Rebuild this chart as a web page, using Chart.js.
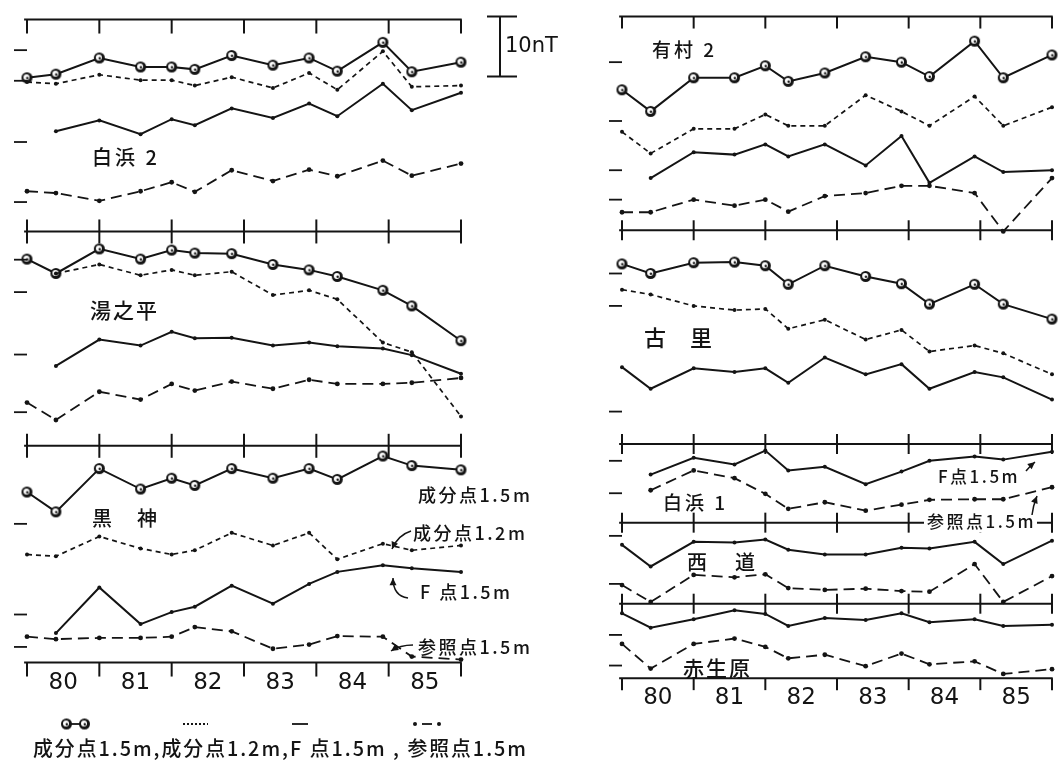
<!DOCTYPE html>
<html>
<head>
<meta charset="utf-8">
<script src="https://cdn.jsdelivr.net/npm/chart.js@4"></script>
<style>
  body { margin: 0; background: #fff; }
  #wrap { position: relative; width: 1058px; height: 761px; }
  canvas { position: absolute; left: 0; top: 0; }
</style>
</head>
<body>
<div id="wrap">
  <canvas id="leftCol" width="1058" height="761"></canvas>
  <canvas id="rightCol" width="1058" height="761"></canvas>
</div>
<script>
// survey epochs (decimal year) and year axis
const epochs = [1980.0, 1980.4, 1981.0, 1981.57, 1982.0, 1982.32, 1982.83, 1983.4, 1983.9, 1984.29, 1984.92, 1985.32, 1986.0];
const yearTicks = [1980, 1981, 1982, 1983, 1984, 1985, 1986];
const yearLabels = ['80', '81', '82', '83', '84', '85'];

// levels (nT) of the horizontal panel axes, top to bottom
const leftAxisLevels = [122.5, 87.2, 51.5, 15.4];
const rightAxisLevels = [123.0, 87.4, 51.8, 38.7, 25.2, 12.8];

// values in nT above the bottom axis of each panel
// 白浜2
const shirahama2Comp15 = [25.6, 26.2, 28.9, 27.4, 27.4, 27.0, 29.3, 27.7, 28.9, 26.7, 31.5, 26.6, 28.2];
const shirahama2Comp12 = [24.9, 24.6, 26.1, 25.2, 25.2, 24.3, 25.7, 23.9, 26.4, 23.6, 30.0, 24.1, 24.3];
const shirahama2F15 = [null, 16.7, 18.5, 16.2, 18.7, 17.7, 20.5, 18.9, 21.3, 19.2, 24.6, 20.2, 23.1];
const shirahama2Ref15 = [6.7, 6.4, 5.1, 6.7, 8.2, 6.6, 10.2, 8.4, 10.3, 9.2, 11.8, 9.3, 11.3];
const shirahama2Marks = [30.2, 25.1, 14.9, 4.9];
// 湯之平
const yunohiraComp15 = [31.1, 28.7, 32.8, 31.1, 32.6, 32.1, 32.0, 30.2, 29.3, 28.2, 25.9, 23.3, 17.5];
const yunohiraComp12 = [null, 28.7, 30.2, 28.4, 29.3, 28.4, 29.0, 25.1, 25.9, 24.4, 17.2, 15.6, 4.9];
const yunohiraF15 = [null, 13.3, 17.7, 16.7, 19.0, 17.9, 18.0, 16.7, 17.2, 16.6, 16.2, 15.1, 12.0];
const yunohiraRef15 = [7.2, 4.3, 9.0, 7.7, 10.3, 9.2, 10.7, 9.5, 11.0, 10.3, 10.3, 10.5, 11.3];
const yunohiraMarks = [31.0, 25.6, 15.2, 5.6];
// 黒神
const kurokamiComp15 = [28.4, 25.1, 32.3, 28.9, 30.7, 29.5, 32.3, 30.7, 32.3, 30.5, 34.4, 32.8, 32.1];
const kurokamiComp12 = [18.0, 17.7, 21.0, 19.0, 18.0, 18.7, 21.6, 19.5, 21.6, 17.2, 19.8, 18.7, 19.5];
const kurokamiF15 = [null, 4.9, 12.5, 6.4, 8.4, 9.3, 12.8, 9.8, 13.1, 15.1, 16.2, 15.7, 15.1];
const kurokamiRef15 = [4.3, 3.9, 4.1, 4.1, 4.3, 5.9, 5.2, 2.3, 3.0, 4.4, 4.3, 1.0, 0.5];
const kurokamiMarks = [23.1, 8.0, 2.6];
// 有村2
const arimura2Comp15 = [23.4, 19.8, 25.4, 25.4, 27.4, 24.8, 26.2, 28.9, 28.0, 25.6, 31.5, 25.4, 29.2];
const arimura2Comp12 = [16.4, 12.8, 16.9, 16.9, 19.3, 17.4, 17.4, 22.5, 19.8, 17.4, 22.3, 17.4, 20.5];
const arimura2F15 = [null, 8.7, 13.0, 12.6, 14.3, 12.3, 14.3, 10.8, 15.7, 7.9, 12.3, 9.7, 10.0];
const arimura2Ref15 = [3.0, 3.0, 5.1, 4.1, 5.1, 3.1, 5.7, 6.2, 7.4, 7.4, 6.2, -0.2, 8.7];
const arimura2Marks = [28.0, 18.2, 10.0, 5.1];
// 古里
const furusatoComp15 = [30.0, 28.4, 30.2, 30.3, 29.7, 26.6, 29.7, 27.9, 26.7, 23.3, 26.6, 23.3, 20.8];
const furusatoComp12 = [25.7, 24.9, 23.0, 22.3, 22.5, 19.2, 20.7, 17.4, 19.0, 15.4, 16.4, 15.1, 11.6];
const furusatoF15 = [12.8, 9.2, 12.6, 12.0, 12.6, 10.2, 14.4, 11.6, 13.3, 9.2, 12.0, 11.1, 7.4];
const furusatoMarks = [28.4, 23.0, 5.4];
// 白浜1
const shirahama1F15 = [null, 8.0, 10.8, 9.7, 12.0, 8.7, 9.3, 6.4, 8.5, 10.3, 11.0, 10.5, 11.8];
const shirahama1Ref15 = [null, 5.4, 8.7, 7.4, 4.8, 2.3, 3.4, 2.0, 3.0, 3.8, 3.9, 3.9, 5.9];
const shirahama1Marks = [10.3, 4.9];
// 西道
const saidoF15 = [9.8, 6.2, 10.3, 10.2, 10.7, 9.0, 8.2, 8.2, 9.3, 9.2, 10.3, 6.6, 10.5];
const saidoRef15 = [3.1, 0.3, 4.8, 4.4, 4.9, 2.6, 2.3, 2.5, 2.1, 2.0, 6.6, 0.3, 4.6];
const saidoMarks = [11.3, 3.3];
// 赤生原
const akobaruF15 = [10.8, 8.4, 9.8, 11.3, 10.7, 8.7, 10.0, 9.7, 10.8, 9.3, 9.8, 8.7, 8.9];
const akobaruRef15 = [5.7, 1.6, 5.7, 6.6, 5.2, 3.3, 3.9, 2.0, 4.1, 2.3, 2.8, 0.7, 1.5];
const akobaruMarks = [7.2, 2.1];

const INK = '#141414';
const JP = '"Noto Sans CJK JP"';

function ringMarker() {
  const c = document.createElement('canvas');
  c.width = c.height = 13;
  const g = c.getContext('2d');
  g.fillStyle = INK;
  g.beginPath(); g.arc(6.5, 6.5, 5.5, 0, Math.PI * 2); g.fill();
  g.fillStyle = '#fff';
  g.beginPath(); g.arc(6.0, 6.0, 3.0, 0, Math.PI * 2); g.fill();
  g.fillStyle = INK;
  g.beginPath(); g.arc(6.8, 6.8, 1.2, 0, Math.PI * 2); g.fill();
  return c;
}
const ring = ringMarker();

function series(kind, base, values) {
  const ds = {
    data: values.map((v, i) => ({ x: epochs[i], y: v === null ? null : base + v })),
    borderColor: INK, pointBackgroundColor: INK, pointBorderColor: INK,
    borderWidth: 2, tension: 0, clip: false, pointBorderWidth: 0
  };
  if (kind === 'c15') { ds.pointStyle = ring; ds.pointRadius = 6; }
  if (kind === 'c12') { ds.borderDash = [5, 4]; ds.borderWidth = 1.7; ds.pointRadius = 2; }
  if (kind === 'f15') { ds.pointRadius = 2; }
  if (kind === 'ref') { ds.borderDash = [11, 6]; ds.borderWidth = 1.8; ds.pointRadius = 2.4; }
  return ds;
}

function arrow(ctx, x0, y0, cx, cy, x1, y1) {
  ctx.beginPath(); ctx.moveTo(x0, y0); ctx.quadraticCurveTo(cx, cy, x1, y1); ctx.stroke();
  const a = Math.atan2(y1 - cy, x1 - cx);
  ctx.beginPath();
  ctx.moveTo(x1, y1);
  ctx.lineTo(x1 - 8 * Math.cos(a - 0.45), y1 - 8 * Math.sin(a - 0.45));
  ctx.lineTo(x1 - 8 * Math.cos(a + 0.45), y1 - 8 * Math.sin(a + 0.45));
  ctx.closePath(); ctx.fill();
}

const frame = {
  id: 'frame',
  afterDatasetsDraw(chart, args, o) {
    const { ctx, scales: { x, y } } = chart;
    ctx.save();
    ctx.strokeStyle = INK; ctx.fillStyle = INK; ctx.lineWidth = 2;
    // panel axes with year ticks
    o.levels.forEach((lv, i) => {
      const py = y.getPixelForValue(lv);
      ctx.beginPath();
      ctx.moveTo(x.getPixelForValue(1979.96), py);
      ctx.lineTo(x.getPixelForValue(1986.01), py);
      ctx.stroke();
      const down = i === 0 || i === o.levels.length - 1;
      yearTicks.forEach(t => {
        const px = x.getPixelForValue(t);
        ctx.beginPath();
        ctx.moveTo(px, down ? py : py - o.tick);
        ctx.lineTo(px, py + (down ? o.tick + 2 : o.tick));
        ctx.stroke();
      });
    });
    // reference marks at the left edge
    ctx.lineWidth = 1.8;
    o.marks.forEach((arr, i) => arr.forEach(v => {
      const py = y.getPixelForValue(o.levels[i + 1] + v);
      const px = x.getPixelForValue(1980);
      ctx.beginPath(); ctx.moveTo(px - 13, py); ctx.lineTo(px, py); ctx.stroke();
    }));
    // year labels
    const by = y.getPixelForValue(o.levels[o.levels.length - 1]);
    ctx.font = '23px "DejaVu Sans"';
    ctx.textAlign = 'center'; ctx.textBaseline = 'middle';
    yearLabels.forEach((l, i) => ctx.fillText(l, x.getPixelForValue(yearTicks[i] + 0.5), by + o.labelGap));
    // panel names and notes
    ctx.textAlign = 'left';
    o.texts.forEach(t => {
      ctx.font = '500 ' + t.size + 'px ' + JP;
      ctx.letterSpacing = (t.sp || 0) + 'px';
      if (t.bg) {
        const w = ctx.measureText(t.t).width;
        ctx.fillStyle = '#fff';
        ctx.fillRect(t.x - 3, t.y - t.size / 2 - 2, w + 4, t.size + 4);
        ctx.fillStyle = INK;
      }
      ctx.fillText(t.t, t.x, t.y);
    });
    ctx.letterSpacing = '0px';
    ctx.lineWidth = 1.5;
    o.arrows.forEach(a => arrow(ctx, ...a));
    if (o.extra) o.extra(ctx, x, y);
    ctx.restore();
  }
};

function legendAndScale(ctx, x, y) {
  // 10 nT scale bar
  const top = y.getPixelForValue(123.0), bot = y.getPixelForValue(113.0);
  ctx.lineWidth = 2;
  ctx.beginPath();
  ctx.moveTo(500, top); ctx.lineTo(500, bot);
  ctx.moveTo(487, top); ctx.lineTo(517, top);
  ctx.moveTo(487, bot); ctx.lineTo(517, bot);
  ctx.stroke();
  ctx.font = '21px "DejaVu Sans"';
  ctx.textBaseline = 'middle';
  ctx.fillText('10nT', 505, (top + bot) / 2);
  // legend symbols
  const ly = 724;
  ctx.lineWidth = 1.8;
  ctx.beginPath(); ctx.moveTo(66, ly); ctx.lineTo(82, ly); ctx.stroke();
  ctx.drawImage(ring, 60, ly - 6.5); ctx.drawImage(ring, 78, ly - 6.5);
  ctx.setLineDash([2, 2]);
  ctx.beginPath(); ctx.moveTo(183, ly); ctx.lineTo(208, ly); ctx.stroke();
  ctx.setLineDash([]);
  ctx.beginPath(); ctx.moveTo(292, ly); ctx.lineTo(308, ly); ctx.stroke();
  ctx.beginPath(); ctx.arc(415, ly, 2, 0, Math.PI * 2); ctx.fill();
  ctx.beginPath(); ctx.moveTo(422, ly); ctx.lineTo(432, ly); ctx.stroke();
  ctx.beginPath(); ctx.arc(439, ly, 2, 0, Math.PI * 2); ctx.fill();
  ctx.font = '500 20px ' + JP;
  ctx.letterSpacing = '2px';
  ctx.fillText('成分点1.5m,成分点1.2m,F 点1.5m , 参照点1.5m', 33, 748, 495);
  ctx.letterSpacing = '0px';
}

function makeChart(id, levels, panels, padLeft, padRight, extraOpts) {
  const datasets = [];
  panels.forEach((p, i) => {
    const base = levels[i + 1];
    p.forEach(([kind, vals]) => datasets.push(series(kind, base, vals)));
  });
  new Chart(document.getElementById(id), {
    type: 'line',
    data: { datasets },
    plugins: [frame],
    options: {
      responsive: false, animation: false,
      layout: { padding: { left: padLeft, right: padRight, top: 0, bottom: 0 } },
      scales: {
        x: { type: 'linear', min: 1980, max: 1986, display: false },
        y: { type: 'linear', min: 0, max: 761 / 6.1, display: false }
      },
      plugins: { legend: { display: false }, tooltip: { enabled: false }, frame: extraOpts }
    }
  });
}

makeChart('leftCol', leftAxisLevels, [
  [['ref', shirahama2Ref15], ['f15', shirahama2F15], ['c12', shirahama2Comp12], ['c15', shirahama2Comp15]],
  [['ref', yunohiraRef15], ['f15', yunohiraF15], ['c12', yunohiraComp12], ['c15', yunohiraComp15]],
  [['ref', kurokamiRef15], ['f15', kurokamiF15], ['c12', kurokamiComp12], ['c15', kurokamiComp15]]
], 27, 1058 - 461, {
  levels: leftAxisLevels, tick: 12, labelGap: 20,
  marks: [shirahama2Marks, yunohiraMarks, kurokamiMarks],
  texts: [
    { t: '白浜 2', x: 92, y: 157, size: 20, sp: 3 },
    { t: '湯之平', x: 90, y: 310, size: 21, sp: 2 },
    { t: '黒', x: 92, y: 518, size: 20 },
    { t: '神', x: 137, y: 518, size: 20 },
    { t: '成分点1.5m', x: 418, y: 495, size: 18, sp: 2.5 },
    { t: '成分点1.2m', x: 413, y: 533, size: 18, sp: 2.5 },
    { t: 'F 点1.5m', x: 420, y: 592, size: 18, sp: 2.5 },
    { t: '参照点1.5m', x: 418, y: 647, size: 18, sp: 2.5 }
  ],
  arrows: [
    [411, 531, 398, 535, 392, 549],
    [408, 598, 393, 596, 393, 578],
    [413, 645, 400, 645, 391, 651]
  ],
  extra: legendAndScale
});

makeChart('rightCol', rightAxisLevels, [
  [['ref', arimura2Ref15], ['f15', arimura2F15], ['c12', arimura2Comp12], ['c15', arimura2Comp15]],
  [['f15', furusatoF15], ['c12', furusatoComp12], ['c15', furusatoComp15]],
  [['ref', shirahama1Ref15], ['f15', shirahama1F15]],
  [['ref', saidoRef15], ['f15', saidoF15]],
  [['ref', akobaruRef15], ['f15', akobaruF15]]
], 622, 1058 - 1055, {
  levels: rightAxisLevels, tick: 10, labelGap: 20,
  marks: [arimura2Marks, furusatoMarks, shirahama1Marks, saidoMarks, akobaruMarks],
  texts: [
    { t: '有村 2', x: 652, y: 50, size: 19, sp: 3 },
    { t: '古', x: 644, y: 338, size: 22 },
    { t: '里', x: 690, y: 338, size: 22 },
    { t: '白浜 1', x: 663, y: 503, size: 19, sp: 3 },
    { t: '西', x: 687, y: 562, size: 20 },
    { t: '道', x: 735, y: 562, size: 20 },
    { t: '赤生原', x: 683, y: 668, size: 21, sp: 2 },
    { t: 'F点1.5m', x: 938, y: 477, size: 17, sp: 2.5 },
    { t: '参照点1.5m', x: 927, y: 522, size: 17, sp: 2.5, bg: true }
  ],
  arrows: [
    [1026, 471, 1029, 467, 1035, 462],
    [1032, 515, 1033, 506, 1037, 496]
  ]
});
</script>
</body>
</html>
